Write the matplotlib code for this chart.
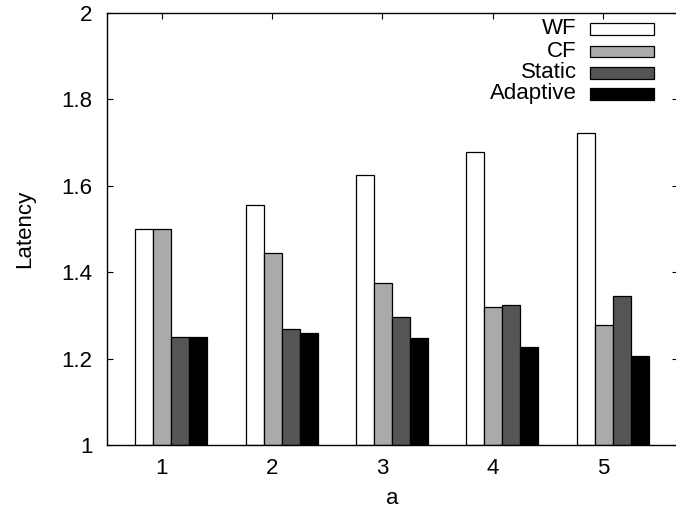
import matplotlib
matplotlib.use("Agg")
import matplotlib.pyplot as plt
from matplotlib.patches import Rectangle

plt.rcParams['font.family'] = ['Liberation Sans', 'DejaVu Sans']

categories = [1, 2, 3, 4, 5]
series_names = ["WF", "CF", "Static", "Adaptive"]
wf = [1.50, 1.556, 1.625, 1.679, 1.722]
cf = [1.50, 1.445, 1.374, 1.319, 1.277]
static = [1.25, 1.268, 1.297, 1.323, 1.346]
adaptive = [1.25, 1.259, 1.248, 1.227, 1.205]
yticks = [1.0, 1.2, 1.4, 1.6, 1.8, 2.0]
ytick_labels = ["1", "1.2", "1.4", "1.6", "1.8", "2"]

colors = ["#ffffff", "#aaaaaa", "#555555", "#000000"]
series = [wf, cf, static, adaptive]

W, H = 676, 514
fs = 16
fig = plt.figure(figsize=(W / 100, H / 100), dpi=100)
left, right, top, bottom = 106.5, 678.0, 13.0, 445.0
ax = fig.add_axes([left / W, (H - bottom) / H, (right - left) / W, (bottom - top) / H])

bw = 0.163
offsets = [-0.238, -0.075, 0.088, 0.251]
for vals, col, off in zip(series, colors, offsets):
    xs = [c + off for c in categories]
    ax.bar(xs, [v - 1.0 for v in vals], width=bw, bottom=1.0, align='edge',
           color=col, edgecolor='black', linewidth=0.9, zorder=2)

ax.set_xlim(0.5, 0.5 + (right - left) / 110.3)
ax.set_ylim(1.0, 2.0)
ax.set_xticks(categories)
ax.set_xticklabels([str(c) for c in categories])
ax.set_yticks(yticks)
ax.set_yticklabels(ytick_labels)
ax.tick_params(direction='in', length=4.5, width=0.8, top=True, right=True,
               labelsize=fs, color='black')
ax.tick_params(axis='x', pad=9.5)
ax.tick_params(axis='y', pad=10)
for s in ax.spines.values():
    s.set_linewidth(1.0)

ax.set_xlabel("a", fontsize=fs, labelpad=6)
ax.set_ylabel("Latency", fontsize=fs, labelpad=19)

# legend drawn manually in figure pixel coordinates
rows_y = [29, 51.5, 73, 94]
for name, col, yc in zip(series_names, colors, rows_y):
    fig.text(576.7 / W, (H - yc) / H, name, ha='right', va='center', fontsize=fs)
    fig.patches.append(Rectangle((590 / W, (H - yc - 5.5) / H), 64 / W, 11 / H,
                                 transform=fig.transFigure, facecolor=col,
                                 edgecolor='black', linewidth=0.9))

fig.savefig("out.png", dpi=100)
